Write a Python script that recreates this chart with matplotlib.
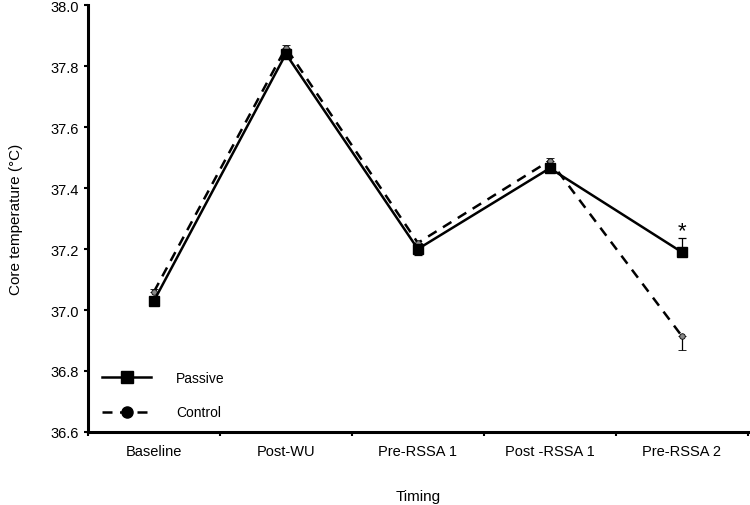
import matplotlib.pyplot as plt
from matplotlib.lines import Line2D

# timings and mean core temperature
timings = ['Baseline', 'Post-WU', 'Pre-RSSA 1', 'Post -RSSA 1', 'Pre-RSSA 2']
passive = [37.03, 37.84, 37.20, 37.465, 37.19]
control = [37.06, 37.86, 37.22, 37.49, 36.915]
passive_err_lo = [0.01, 0.0, 0.02, 0.0, 0.0]
passive_err_hi = [0.0, 0.0, 0.0, 0.0, 0.045]
control_err_lo = [0.0, 0.0, 0.0, 0.0, 0.045]
control_err_hi = [0.01, 0.008, 0.0, 0.01, 0.0]

plt.rcParams['font.family'] = ['Liberation Sans', 'DejaVu Sans']

fig = plt.figure(figsize=(7.5, 5.06), dpi=100)
ax = fig.add_axes([0.1173, 0.1443, 0.8797, 0.8437])

x = list(range(len(timings)))
ax.errorbar(x, control, yerr=[control_err_lo, control_err_hi], color='black',
            linestyle=(0, (4, 3)), linewidth=1.8, marker='o', markersize=4,
            markerfacecolor='#888888', markeredgecolor='black', markeredgewidth=0.6,
            elinewidth=0.9, capsize=3, capthick=0.9)
ax.errorbar(x, passive, yerr=[passive_err_lo, passive_err_hi], color='black',
            linestyle='-', linewidth=1.8, marker='s', markersize=7,
            elinewidth=0.9, capsize=3, capthick=0.9)

ax.text(4, 37.225, '*', ha='center', va='bottom', fontsize=16)

ax.set_xlim(-0.5, 4.5)
ax.set_ylim(36.6, 38.0)
ax.set_yticks([36.6, 36.8, 37.0, 37.2, 37.4, 37.6, 37.8, 38.0])
ax.set_yticklabels(['%.1f' % v for v in ax.get_yticks()], fontsize=10.5)
ax.set_xticks(x)
ax.set_xticklabels(timings, fontsize=10.5)
ax.set_xticks([-0.5, 0.5, 1.5, 2.5, 3.5, 4.5], minor=True)
ax.tick_params(axis='x', which='major', length=0, pad=9)
ax.tick_params(axis='x', which='minor', length=3, width=1.5, direction='out')
ax.tick_params(axis='y', length=3, width=1.5)

for side in ['top', 'right']:
    ax.spines[side].set_visible(False)
for side in ['left', 'bottom']:
    ax.spines[side].set_linewidth(2.2)

ax.set_ylabel('Core temperature (°C)', fontsize=11, labelpad=20)
ax.set_xlabel('Timing', fontsize=11, labelpad=22)

handles = [Line2D([], [], color='black', linestyle='-', linewidth=1.8,
                  marker='s', markersize=8),
           Line2D([], [], color='black', linestyle=(0, (4, 3)), linewidth=1.8,
                  marker='o', markersize=8)]
ax.legend(handles, ['Passive', 'Control'], loc='lower left', frameon=False,
          fontsize=10, handlelength=3.5, handletextpad=1.8, labelspacing=1.5,
          bbox_to_anchor=(0.003, 0.0))

plt.savefig('out.png')
